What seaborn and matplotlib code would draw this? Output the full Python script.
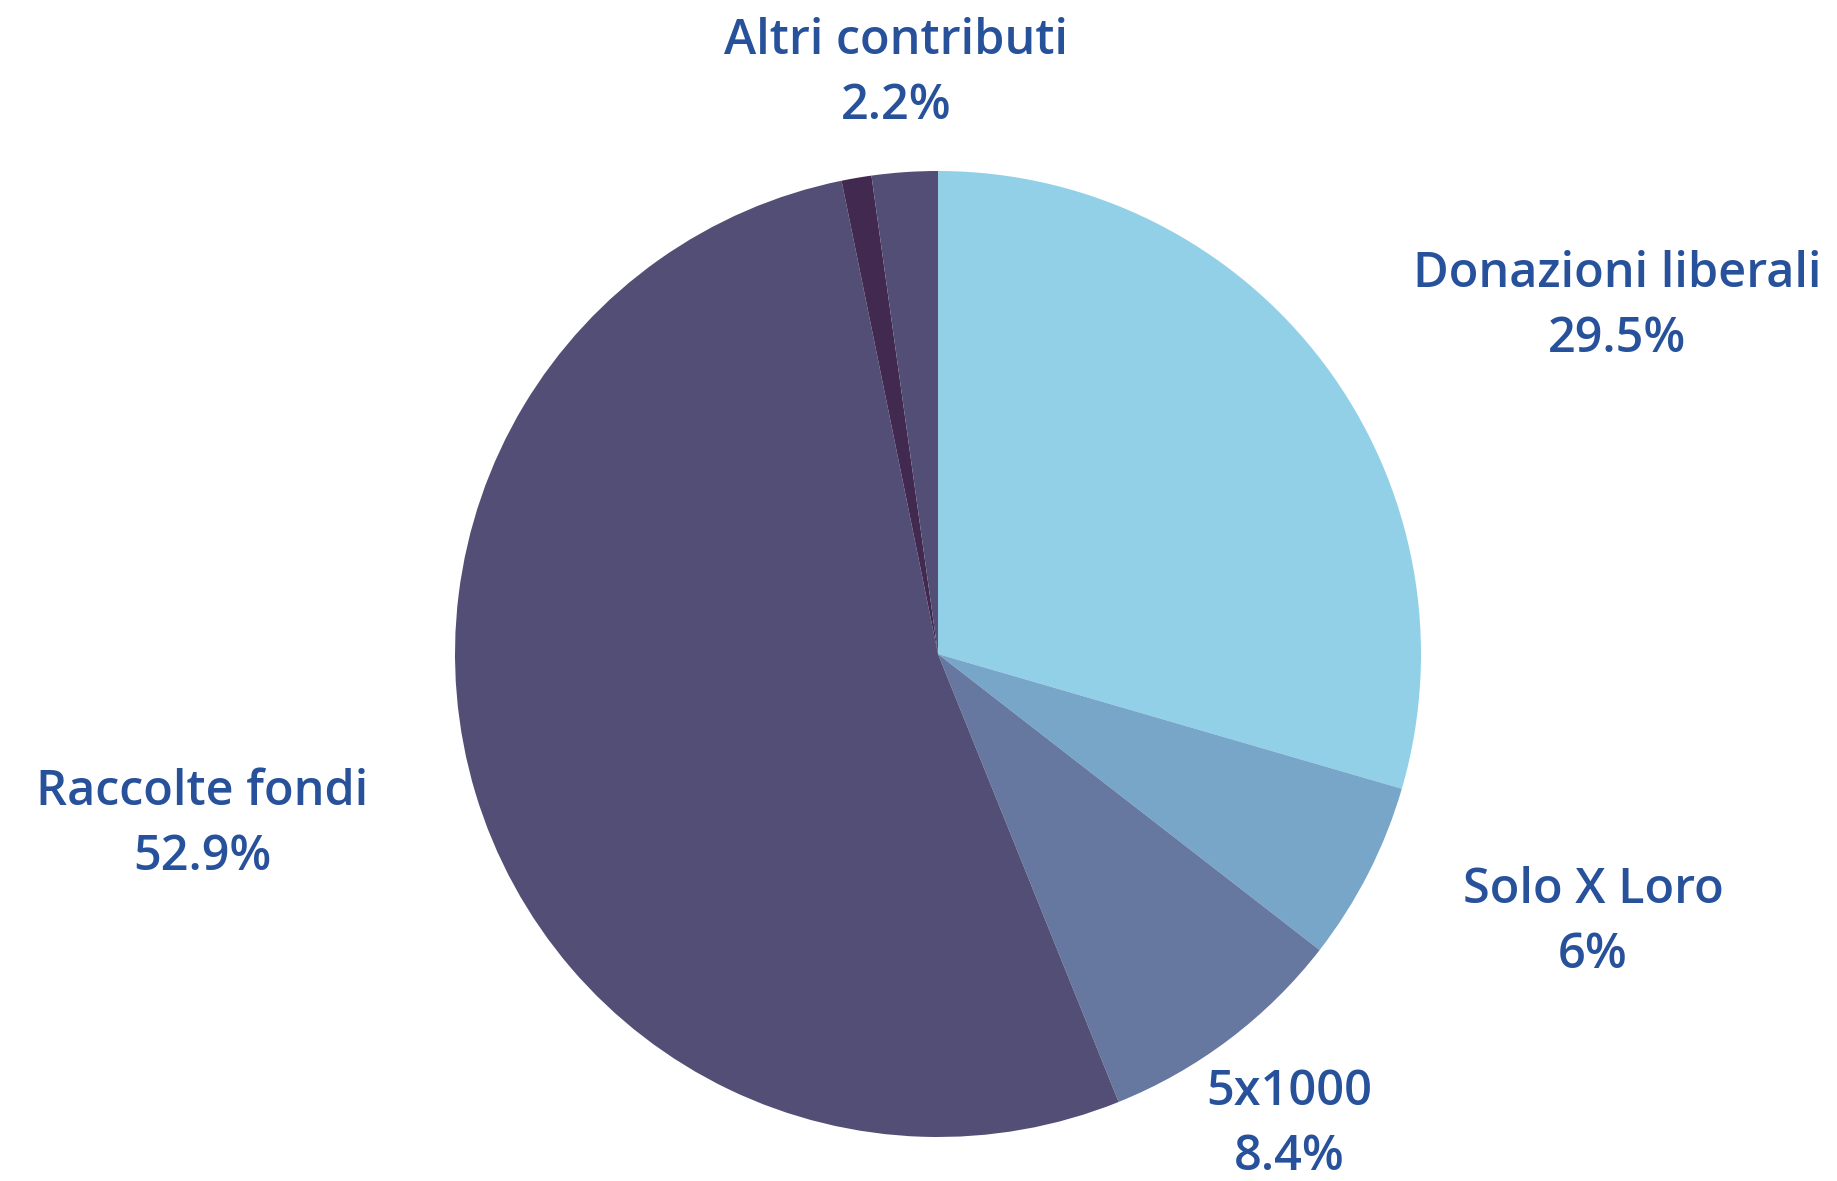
import matplotlib
matplotlib.use("Agg")
import matplotlib.pyplot as plt
import seaborn as sns

# data
labels = ["Donazioni liberali", "Solo X Loro", "5x1000", "Raccolte fondi", "", "Altri contributi"]
shares = [29.5, 6.0, 8.4, 52.9, 1.0, 2.2]
pct_text = ["29.5%", "6%", "8.4%", "52.9%", "", "2.2%"]
colors = ["#92D0E8", "#78A6C8", "#6778A0", "#524E75", "#42294F", "#524E75"]

sns.set_theme(style="white")
plt.rcParams['font.family'] = ['Open Sans', 'DejaVu Sans']

W, H = 1837, 1181
fig = plt.figure(figsize=(W / 100, H / 100), dpi=100)
ax = fig.add_axes([0, 0, 1, 1])

cx, cy, r = 938, H - 654, 483
ax.pie(shares, colors=colors, startangle=90, counterclock=False,
       center=(cx, cy), radius=r, frame=True,
       wedgeprops=dict(linewidth=0))
ax.set_xlim(0, W)
ax.set_ylim(0, H)
ax.set_aspect("equal")
ax.axis("off")

# label centres in pixels (image coords, y from top)
label_pos = [(1617, 307), (1593, 923), (1289, 1125), (202, 825), None, (896, 74)]
for lab, pct, pos in zip(labels, pct_text, label_pos):
    if pos is None:
        continue
    ax.text(pos[0], H - pos[1], f"{lab}\n{pct}", ha="center", va="center",
            fontsize=35, color="#27519A", fontweight="semibold", linespacing=1.42)

fig.savefig("out.png", dpi=100, facecolor="white")
